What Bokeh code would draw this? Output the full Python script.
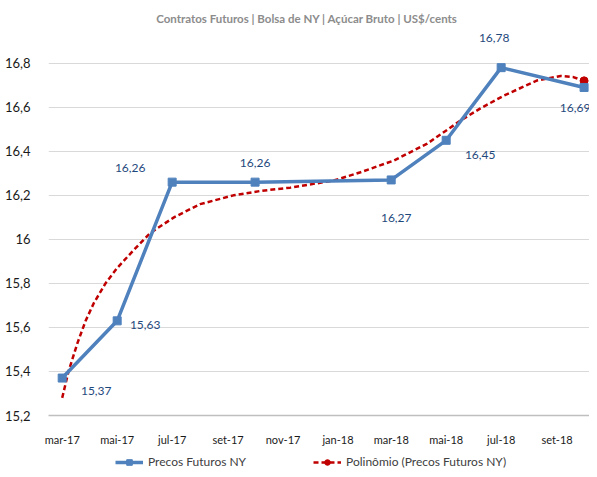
import pandas as pd
from bokeh.plotting import figure
from bokeh.layouts import column
from bokeh.models import FixedTicker, Range1d, Label, Legend, LegendItem
from bokeh.core.properties import value
from bokeh.embed import file_html
from bokeh.resources import INLINE

# ---- data ----
subtitle = "Contratos Futuros  | Bolsa de NY | Açúcar Bruto | US$/cents"
series_name = "Precos Futuros NY"
trend_name = "Polinômio (Precos Futuros NY)"

dates = ["2017-03-01", "2017-05-01", "2017-07-01", "2017-10-01",
         "2018-03-01", "2018-05-01", "2018-07-01", "2018-10-01"]
prices = [15.37, 15.63, 16.26, 16.26, 16.27, 16.45, 16.78, 16.69]

trend_dates = ["2017-03-01", "2017-03-08", "2017-03-18", "2017-03-27", "2017-04-05",
               "2017-04-18", "2017-05-01", "2017-05-19", "2017-06-07", "2017-07-03",
               "2017-08-01", "2017-09-07", "2017-10-07", "2017-11-09", "2017-12-27",
               "2018-01-26", "2018-03-04", "2018-04-10", "2018-05-17", "2018-06-08",
               "2018-07-04", "2018-08-10", "2018-09-05", "2018-09-19", "2018-10-01"]
trend_vals = [15.28, 15.40, 15.53, 15.63, 15.71,
              15.80, 15.87, 15.95, 16.03, 16.10,
              16.16, 16.20, 16.22, 16.235, 16.267,
              16.305, 16.358, 16.435, 16.54, 16.595,
              16.653, 16.722, 16.742, 16.737, 16.72]

tick_dates = ["2017-03-01", "2017-05-01", "2017-07-01", "2017-09-01", "2017-11-01",
              "2018-01-01", "2018-03-01", "2018-05-01", "2018-07-01", "2018-09-01"]
tick_labels = ["mar-17", "mai-17", "jul-17", "set-17", "nov-17",
               "jan-18", "mar-18", "mai-18", "jul-18", "set-18"]
y_ticks = [15.2, 15.4, 15.6, 15.8, 16.0, 16.2, 16.4, 16.6, 16.8]
y_tick_labels = ["15,2", "15,4", "15,6", "15,8", "16", "16,2", "16,4", "16,6", "16,8"]

# ---- styles ----
label_dx = [34, 28, -42, 0, 5, 34, -7, -9]
label_dy = [13, 4, -14, -19, 38, 15, -30, 21]

base = pd.Timestamp(dates[0])
def days(ds):
    return [int((pd.Timestamp(d) - base).days) for d in ds]

x = days(dates)
tx = days(trend_dates)
ticks = days(tick_dates)

FONT = "Lato"
blue = "#4F81BD"
red = "#C00000"

p = figure(width=589, height=453, output_backend="svg", toolbar_location=None,
           x_range=Range1d(-15.2, 585.0), y_range=Range1d(15.2, 17.085),
           min_border_left=48, min_border_right=0, min_border_top=0, min_border_bottom=38)
p.outline_line_color = None
p.background_fill_color = "white"

p.xgrid.grid_line_color = None
p.ygrid.grid_line_color = "#D9D9D9"
p.ygrid.grid_line_width = 1

p.yaxis.ticker = FixedTicker(ticks=y_ticks)
p.yaxis.major_label_overrides = {t: l for t, l in zip(y_ticks, y_tick_labels)}
p.yaxis.axis_line_color = None
p.yaxis.major_tick_line_color = None
p.yaxis.minor_tick_line_color = None
p.yaxis.major_label_standoff = 12
p.yaxis.major_label_text_font = FONT
p.yaxis.major_label_text_font_size = "13px"
p.yaxis.major_label_text_color = "#1A1A1A"

p.xaxis.ticker = FixedTicker(ticks=ticks)
p.xaxis.major_label_overrides = {t: l for t, l in zip(ticks, tick_labels)}
p.xaxis.axis_line_color = "#BFBFBF"
p.xaxis.axis_line_width = 1.5
p.xaxis.major_tick_line_color = None
p.xaxis.minor_tick_line_color = None
p.xaxis.major_label_standoff = 11
p.xaxis.major_label_text_font = FONT
p.xaxis.major_label_text_font_size = "11px"
p.xaxis.major_label_text_color = "#1A1A1A"

p.line(tx, trend_vals, line_color=red, line_width=2.5, line_dash="5 3")
p.scatter([tx[-1]], [trend_vals[-1]], marker="circle", size=8, color=red)
p.line(x, prices, line_color=blue, line_width=3.5)
p.scatter(x, prices, marker="square", size=8, color=blue)

texts = [f"{v:.2f}".replace(".", ",") for v in prices]
p.text(x=x, y=prices, text=texts, x_offset=label_dx, y_offset=label_dy,
       text_align="center", text_baseline="middle", text_font=value(FONT),
       text_font_size="12px", text_color="#1F497D")

p.add_layout(Label(x=260, y=397, x_units="screen", y_units="screen", text=subtitle,
                   text_align="center", text_baseline="middle", text_font=FONT,
                   text_font_size="11.5px", text_font_style="bold", text_color="#8C8C8C"))

# legend strip (its own small figure; the series lie outside its view)
lg = figure(width=589, height=16, output_backend="svg", toolbar_location=None,
            x_range=p.x_range, y_range=Range1d(0, 1),
            x_axis_location=None, y_axis_location=None, min_border=0)
lg.outline_line_color = None
lg.grid.grid_line_color = None
l_line = lg.line(x, prices, line_color=blue, line_width=3.5)
l_mark = lg.scatter(x, prices, marker="square", size=8, color=blue)
l_tline = lg.line(tx, trend_vals, line_color=red, line_width=2.5, line_dash="5 3")
l_tdot = lg.scatter([tx[-1]], [trend_vals[-1]], marker="circle", size=8, color=red)

legend = Legend(items=[LegendItem(label=series_name, renderers=[l_line, l_mark]),
                       LegendItem(label=trend_name, renderers=[l_tline, l_tdot])],
                location=(67, 0), orientation="horizontal",
                glyph_width=28, glyph_height=14, label_standoff=5, label_width=165,
                spacing=0, padding=0, margin=0,
                label_text_font=FONT, label_text_font_size="12px", label_text_color="#404040",
                border_line_color=None, background_fill_alpha=0)
lg.add_layout(legend)

layout = column(p, lg, spacing=0)
open("out.html", "w").write(file_html(layout, INLINE))
